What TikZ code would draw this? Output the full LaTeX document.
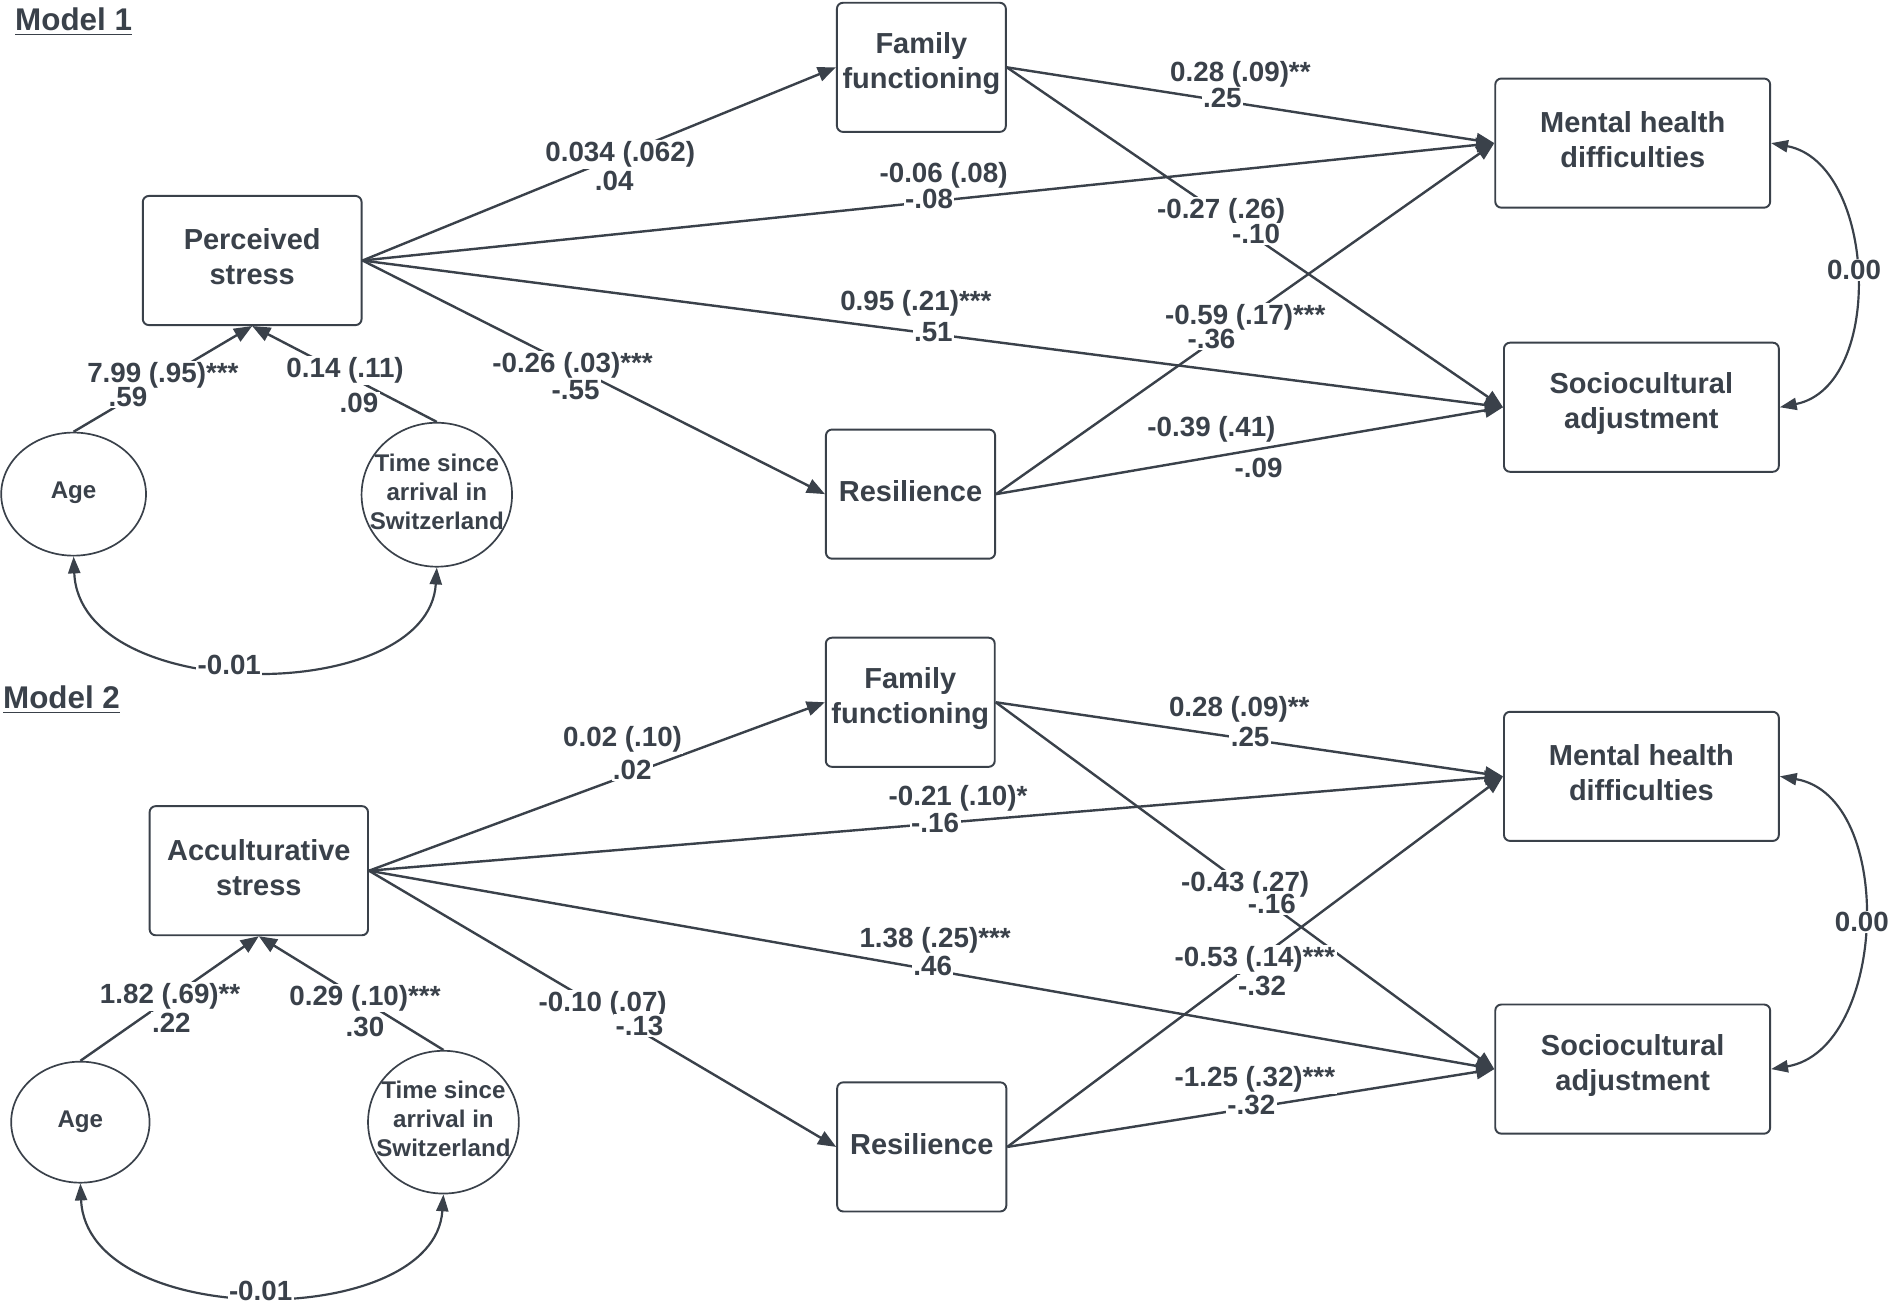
\documentclass[tikz,border=0pt]{standalone}
\usepackage{fontspec}
\setmainfont{Liberation Sans}
\usetikzlibrary{arrows.meta,shapes.geometric}
\definecolor{ink}{HTML}{3A414A}
\begin{document}
\begin{tikzpicture}[x=0.5pt,y=-0.5pt,
  every node/.style={text=ink},
  box/.style={draw=ink, line width=0.8pt, rounded corners=2.5pt, fill=white,
    inner sep=0pt, minimum height=53.5pt},
  boxtext/.style={align=center, inner sep=0pt, font=\fontsize{12}{14.5}\selectfont\bfseries},
  ell/.style={ellipse, draw=ink, line width=0.7pt, inner sep=0pt, fill=white},
  elltext/.style={align=center, inner sep=0pt, font=\fontsize{10}{12}\selectfont\bfseries},
  arr/.style={draw=ink, line width=1pt, -{Triangle[length=7.5pt,width=6pt]}},
  carr/.style={draw=ink, line width=0.9pt, {Triangle[length=7pt,width=5pt]}-{Triangle[length=7pt,width=5pt]}},
  lab/.style={fill=white, inner sep=0.6pt, font=\fontsize{11.5}{13}\selectfont\bfseries},
  mtitle/.style={inner sep=0pt, font=\fontsize{13}{15}\selectfont\bfseries}]
\useasboundingbox (0,0) rectangle (1568,1080.7);
\fill[white] (0,0) rectangle (1568,1080.7);

% ---------------- Model 1 ----------------
\node[mtitle] (m1) at (61,18) {\underline{Model 1}};
\node[box, minimum width=90.65pt] (ps) at (209,215.9) {};
\node[boxtext] (pst) at ([yshift=1.4pt]ps.center) {Perceived\\stress};
\node[box, minimum width=70pt] (ff1) at (763.6,55.8) {};
\node[boxtext] (ff1t) at ([yshift=1.4pt]ff1.center) {Family\\functioning};
\node[box, minimum width=113.9pt] (mh1) at (1353.1,118.6) {};
\node[boxtext] (mh1t) at ([yshift=1.4pt]mh1.center) {Mental health\\difficulties};
\node[box, minimum width=113.9pt] (sa1) at (1360.3,337.5) {};
\node[boxtext] (sa1t) at ([yshift=1.4pt]sa1.center) {Sociocultural\\adjustment};
\node[box, minimum width=70.1pt] (re1) at (754.6,409.5) {};
\node[boxtext] (re1t) at ([yshift=1.2pt]re1.center) {Resilience};
\node[ell, minimum width=60pt, minimum height=51pt] (ag1) at (61,409.5) {};
\node[elltext] (ag1t) at (61,408) {Age};
\node[ell, minimum width=62.35pt, minimum height=59.65pt] (ti1) at (362,410) {};
\node[elltext] (ti1t) at (362,407.5) {Time since\\arrival in\\Switzerland};

\draw[arr] (ps.east) -- (ff1.west);
\draw[arr] (ps.east) -- (mh1.west);
\draw[arr] (ps.east) -- (sa1.west);
\draw[arr] (ps.east) -- (re1.west);
\draw[arr] (ff1.east) -- (mh1.west);
\draw[arr] (ff1.east) -- (sa1.west);
\draw[arr] (re1.east) -- (mh1.west);
\draw[arr] (re1.east) -- (sa1.west);
\draw[arr] (ag1.north) -- (ps.south);
\draw[arr] (ti1.north) -- (ps.south);
\draw[carr] (ag1.south) .. controls (66,585) and (355,585) .. (ti1.south);
\draw[carr] (mh1.east) .. controls (1555,135) and (1563,320) .. (sa1.east);

\node[lab] (l1a) at (514,128) {0.034 (.062)};
\node[lab] (l2a) at (782,145) {-0.06 (.08)};
\node[lab] (l3a) at (759,251.5) {0.95 (.21)***};
\node[lab] (l4a) at (474.5,302.5) {-0.26 (.03)***};
\node[lab] (l5a) at (1028,62) {0.28 (.09)**};
\node[lab] (l6a) at (1012,175) {-0.27 (.26)};
\node[lab] (l7a) at (1032,263) {-0.59 (.17)***};
\node[lab] (l8a) at (1004,356) {-0.39 (.41)};
\node[lab] (l9a) at (135,311) {7.99 (.95)***};
\node[lab] (l10a) at (286,307) {0.14 (.11)};
\node[lab] (l1b) at (509,150) {.04};
\node[lab] (l2b) at (770,165) {-.08};
\node[lab] (l3b) at (773.5,275) {.51};
\node[lab] (l4b) at (477,323) {-.55};
\node[lab] (l5b) at (1013,81.5) {.25};
\node[lab] (l6b) at (1041,194) {-.10};
\node[lab] (l7b) at (1004,281) {-.36};
\node[lab] (l8b) at (1043,388) {-.09};
\node[lab] (l9b) at (106,329) {.59};
\node[lab] (l10b) at (297.5,334) {.09};
\node[lab] (c1a) at (190,551) {-0.01};
\node[lab] (c1b) at (1536.5,223.8) {0.00};

% ---------------- Model 2 ----------------
\node[mtitle] (m2) at (51,580) {\underline{Model 2}};
\node[box, minimum width=90.5pt] (as) at (214.5,721.6) {};
\node[boxtext] (ast) at ([yshift=1.4pt]as.center) {Acculturative\\stress};
\node[box, minimum width=70pt] (ff2) at (754.4,582) {};
\node[boxtext] (ff2t) at ([yshift=1.4pt]ff2.center) {Family\\functioning};
\node[box, minimum width=113.9pt] (mh2) at (1360.3,643.4) {};
\node[boxtext] (mh2t) at ([yshift=1.4pt]mh2.center) {Mental health\\difficulties};
\node[box, minimum width=113.9pt] (sa2) at (1353.1,886) {};
\node[boxtext] (sa2t) at ([yshift=1.4pt]sa2.center) {Sociocultural\\adjustment};
\node[box, minimum width=70.1pt] (re2) at (763.9,950.5) {};
\node[boxtext] (re2t) at ([yshift=1.2pt]re2.center) {Resilience};
\node[ell, minimum width=57.35pt, minimum height=50.15pt] (ag2) at (66.6,930) {};
\node[elltext] (ag2t) at (66.6,930) {Age};
\node[ell, minimum width=62.5pt, minimum height=59.15pt] (ti2) at (367.5,930) {};
\node[elltext] (ti2t) at (367.5,927.5) {Time since\\arrival in\\Switzerland};

\draw[arr] (as.east) -- (ff2.west);
\draw[arr] (as.east) -- (mh2.west);
\draw[arr] (as.east) -- (sa2.west);
\draw[arr] (as.east) -- (re2.west);
\draw[arr] (ff2.east) -- (mh2.west);
\draw[arr] (ff2.east) -- (sa2.west);
\draw[arr] (re2.east) -- (mh2.west);
\draw[arr] (re2.east) -- (sa2.west);
\draw[arr] (ag2.north) -- (as.south);
\draw[arr] (ti2.north) -- (as.south);
\draw[carr] (ag2.south) .. controls (72,1103) and (360,1103) .. (ti2.south);
\draw[carr] (mh2.east) .. controls (1572,660) and (1564,870) .. (sa2.east);

\node[lab] (k1a) at (516,612.6) {0.02 (.10)};
\node[lab] (k2a) at (794,661.6) {-0.21 (.10)*};
\node[lab] (k3a) at (775,779) {1.38 (.25)***};
\node[lab] (k4a) at (499.5,832) {-0.10 (.07)};
\node[lab] (k5a) at (1027,587.8) {0.28 (.09)**};
\node[lab] (k6a) at (1032,733) {-0.43 (.27)};
\node[lab] (k7a) at (1040,795) {-0.53 (.14)***};
\node[lab] (k8a) at (1040,894.4) {-1.25 (.32)***};
\node[lab] (k9a) at (141,826) {1.82 (.69)**};
\node[lab] (k10a) at (302.5,827) {0.29 (.10)***};
\node[lab] (k1b) at (524,638) {.02};
\node[lab] (k2b) at (775,681.7) {-.16};
\node[lab] (k3b) at (773,800.5) {.46};
\node[lab] (k4b) at (530,850) {-.13};
\node[lab] (k5b) at (1036,611) {.25};
\node[lab] (k6b) at (1054,749) {-.16};
\node[lab] (k7b) at (1046,817) {-.32};
\node[lab] (k8b) at (1037,915.8) {-.32};
\node[lab] (k9b) at (142,848) {.22};
\node[lab] (k10b) at (302.5,851) {.30};
\node[lab] (c2a) at (216,1069.5) {-0.01};
\node[lab] (c2b) at (1543,764) {0.00};
\end{tikzpicture}
\end{document}
